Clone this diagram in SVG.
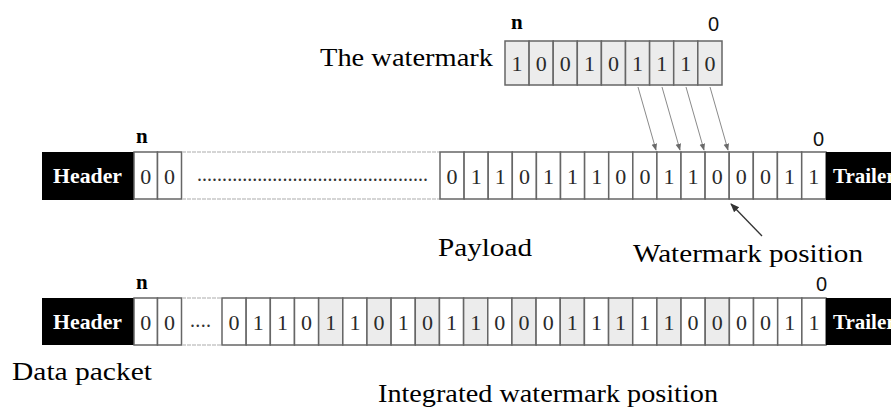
<svg xmlns="http://www.w3.org/2000/svg" width="891" height="415" viewBox="0 0 891 415">
<style>
.cell{fill:#fff;stroke:#666;stroke-width:1.5}
.sh{fill:#ececec;stroke:#666;stroke-width:1.5}
.blk{fill:#000}
.bit{font-family:"Liberation Serif",serif;font-size:22px;fill:#2a2a2a;text-anchor:middle}
.hd{font-family:"Liberation Serif",serif;font-size:21px;font-weight:bold;fill:#fff}
.lbl{font-family:"Liberation Serif",serif;font-size:25px;fill:#000}
.idx{font-family:"Liberation Sans",sans-serif;font-size:20px;fill:#111}
.idxb{font-family:"Liberation Serif",serif;font-size:21px;font-weight:bold;fill:#000}
.faint{stroke:#c8c8c8;stroke-width:1.4;stroke-dasharray:4 1}
.dots{font-family:"Liberation Serif",serif;font-size:20px;fill:#333}
.arw{stroke:#8a8a8a;stroke-width:1;fill:none}
</style>
<defs>
<marker id="ga" viewBox="0 0 10 10" refX="9" refY="5" markerWidth="7" markerHeight="7" orient="auto" markerUnits="userSpaceOnUse"><path d="M0,1 L10,5 L0,9 Z" fill="#6a6a6a"/></marker>
<marker id="ka" viewBox="0 0 10 10" refX="9" refY="5" markerWidth="9" markerHeight="9" orient="auto" markerUnits="userSpaceOnUse"><path d="M0,1 L10,5 L0,9 Z" fill="#333"/></marker>
</defs>
<rect width="891" height="415" fill="#fff"/>

<g id="watermark">
<text class="lbl" x="320" y="66" textLength="173" lengthAdjust="spacingAndGlyphs">The watermark</text>
<text class="idxb" x="511" y="29">n</text>
<text class="idx" x="708" y="31">0</text>
<rect class="sh" x="505" y="41" width="24.1" height="44"/><text class="bit" x="517" y="71">1</text>
<rect class="sh" x="529.1" y="41" width="24.1" height="44"/><text class="bit" x="541.2" y="71">0</text>
<rect class="sh" x="553.2" y="41" width="24.1" height="44"/><text class="bit" x="565.3" y="71">0</text>
<rect class="sh" x="577.3" y="41" width="24.1" height="44"/><text class="bit" x="589.4" y="71">1</text>
<rect class="sh" x="601.4" y="41" width="24.1" height="44"/><text class="bit" x="613.5" y="71">0</text>
<rect class="sh" x="625.5" y="41" width="24.1" height="44"/><text class="bit" x="637.6" y="71">1</text>
<rect class="sh" x="649.6" y="41" width="24.1" height="44"/><text class="bit" x="661.7" y="71">1</text>
<rect class="sh" x="673.7" y="41" width="24.1" height="44"/><text class="bit" x="685.8" y="71">1</text>
<rect class="sh" x="697.8" y="41" width="24.2" height="44"/><text class="bit" x="709.9" y="71">0</text>
</g>

<g id="payload-row">
<rect class="blk" x="42" y="152" width="92" height="48"/>
<text class="hd" x="53" y="183" textLength="69" lengthAdjust="spacingAndGlyphs">Header</text>
<text class="idxb" x="136" y="143">n</text>
<text class="idx" x="813" y="146">0</text>
<rect class="cell" x="134" y="152" width="23.5" height="47"/><text class="bit" x="145.7" y="184">0</text>
<rect class="cell" x="157.5" y="152" width="24" height="47"/><text class="bit" x="169.5" y="184">0</text>
<line class="faint" x1="182" y1="152" x2="440" y2="152"/>
<line class="faint" x1="182" y1="199" x2="440" y2="199"/>
<text class="dots" x="197" y="181" textLength="231" lengthAdjust="spacing">..............................................</text>
<rect class="cell" x="440" y="152" width="24.1" height="47"/><text class="bit" x="452" y="184">0</text>
<rect class="cell" x="464.1" y="152" width="24.1" height="47"/><text class="bit" x="476.2" y="184">1</text>
<rect class="cell" x="488.2" y="152" width="24.1" height="47"/><text class="bit" x="500.3" y="184">1</text>
<rect class="cell" x="512.3" y="152" width="24.1" height="47"/><text class="bit" x="524.4" y="184">0</text>
<rect class="cell" x="536.4" y="152" width="24.1" height="47"/><text class="bit" x="548.5" y="184">1</text>
<rect class="cell" x="560.5" y="152" width="24.1" height="47"/><text class="bit" x="572.6" y="184">1</text>
<rect class="cell" x="584.6" y="152" width="24.1" height="47"/><text class="bit" x="596.7" y="184">1</text>
<rect class="cell" x="608.7" y="152" width="24.1" height="47"/><text class="bit" x="620.8" y="184">0</text>
<rect class="cell" x="632.8" y="152" width="24.1" height="47"/><text class="bit" x="644.9" y="184">0</text>
<rect class="cell" x="656.9" y="152" width="24.1" height="47"/><text class="bit" x="669" y="184">1</text>
<rect class="cell" x="681" y="152" width="24.1" height="47"/><text class="bit" x="693.1" y="184">1</text>
<rect class="cell" x="705.1" y="152" width="24.1" height="47"/><text class="bit" x="717.2" y="184">0</text>
<rect class="cell" x="729.2" y="152" width="24.1" height="47"/><text class="bit" x="741.3" y="184">0</text>
<rect class="cell" x="753.3" y="152" width="24.1" height="47"/><text class="bit" x="765.4" y="184">0</text>
<rect class="cell" x="777.4" y="152" width="24.3" height="47"/><text class="bit" x="789.5" y="184">1</text>
<rect class="cell" x="801.7" y="152" width="24.3" height="47"/><text class="bit" x="813.8" y="184">1</text>
<rect class="blk" x="826" y="152" width="65" height="48"/>
<text class="hd" x="833" y="183">Trailer</text>
<text class="lbl" x="438" y="256" textLength="94" lengthAdjust="spacingAndGlyphs">Payload</text>
<text class="lbl" x="633" y="262" textLength="230" lengthAdjust="spacingAndGlyphs">Watermark position</text>
</g>

<g id="integrated-row">
<rect class="blk" x="42" y="298" width="92" height="47"/>
<text class="hd" x="53" y="329" textLength="69" lengthAdjust="spacingAndGlyphs">Header</text>
<text class="idxb" x="136" y="289">n</text>
<text class="idx" x="816" y="291">0</text>
<rect class="cell" x="134" y="298" width="23.5" height="47"/><text class="bit" x="145.7" y="330">0</text>
<rect class="cell" x="157.5" y="298" width="24" height="47"/><text class="bit" x="169.5" y="330">0</text>
<line class="faint" x1="182" y1="298" x2="222" y2="298"/>
<line class="faint" x1="182" y1="345" x2="222" y2="345"/>
<text class="dots" x="190" y="327" textLength="21" lengthAdjust="spacing">....</text>
<rect class="cell" x="222" y="298" width="24.16" height="47"/><text class="bit" x="234.1" y="330">0</text>
<rect class="cell" x="246.16" y="298" width="24.16" height="47"/><text class="bit" x="258.2" y="330">1</text>
<rect class="cell" x="270.32" y="298" width="24.16" height="47"/><text class="bit" x="282.4" y="330">1</text>
<rect class="cell" x="294.48" y="298" width="24.16" height="47"/><text class="bit" x="306.6" y="330">0</text>
<rect class="sh" x="318.64" y="298" width="24.16" height="47"/><text class="bit" x="330.7" y="330">1</text>
<rect class="cell" x="342.8" y="298" width="24.16" height="47"/><text class="bit" x="354.9" y="330">1</text>
<rect class="sh" x="366.96" y="298" width="24.16" height="47"/><text class="bit" x="379" y="330">0</text>
<rect class="cell" x="391.12" y="298" width="24.16" height="47"/><text class="bit" x="403.2" y="330">1</text>
<rect class="sh" x="415.28" y="298" width="24.16" height="47"/><text class="bit" x="427.4" y="330">0</text>
<rect class="cell" x="439.44" y="298" width="24.16" height="47"/><text class="bit" x="451.5" y="330">1</text>
<rect class="sh" x="463.6" y="298" width="24.16" height="47"/><text class="bit" x="475.7" y="330">1</text>
<rect class="cell" x="487.76" y="298" width="24.16" height="47"/><text class="bit" x="499.8" y="330">0</text>
<rect class="sh" x="511.92" y="298" width="24.16" height="47"/><text class="bit" x="524" y="330">0</text>
<rect class="cell" x="536.08" y="298" width="24.16" height="47"/><text class="bit" x="548.2" y="330">0</text>
<rect class="sh" x="560.24" y="298" width="24.16" height="47"/><text class="bit" x="572.3" y="330">1</text>
<rect class="cell" x="584.4" y="298" width="24.16" height="47"/><text class="bit" x="596.5" y="330">1</text>
<rect class="sh" x="608.56" y="298" width="24.16" height="47"/><text class="bit" x="620.6" y="330">1</text>
<rect class="cell" x="632.72" y="298" width="24.16" height="47"/><text class="bit" x="644.8" y="330">1</text>
<rect class="sh" x="656.88" y="298" width="24.16" height="47"/><text class="bit" x="669" y="330">1</text>
<rect class="cell" x="681.04" y="298" width="24.16" height="47"/><text class="bit" x="693.1" y="330">0</text>
<rect class="sh" x="705.2" y="298" width="24.16" height="47"/><text class="bit" x="717.3" y="330">0</text>
<rect class="cell" x="729.36" y="298" width="24.16" height="47"/><text class="bit" x="741.4" y="330">0</text>
<rect class="cell" x="753.52" y="298" width="24.16" height="47"/><text class="bit" x="765.6" y="330">0</text>
<rect class="cell" x="777.68" y="298" width="24.16" height="47"/><text class="bit" x="789.8" y="330">1</text>
<rect class="cell" x="801.84" y="298" width="24.16" height="47"/><text class="bit" x="813.9" y="330">1</text>
<rect class="blk" x="826" y="298" width="65" height="47"/>
<text class="hd" x="833" y="329">Trailer</text>
<text class="lbl" x="12" y="380" textLength="140" lengthAdjust="spacingAndGlyphs">Data packet</text>
<text class="lbl" x="378" y="402" textLength="340" lengthAdjust="spacingAndGlyphs">Integrated watermark position</text>
</g>

<g id="connectors">
<line class="arw" x1="638" y1="87" x2="656" y2="150" marker-end="url(#ga)"/>
<line class="arw" x1="662" y1="87" x2="680" y2="150" marker-end="url(#ga)"/>
<line class="arw" x1="686" y1="87" x2="704" y2="150" marker-end="url(#ga)"/>
<line class="arw" x1="710" y1="87" x2="728" y2="150" marker-end="url(#ga)"/>
<line x1="762" y1="236" x2="731" y2="204" stroke="#333" stroke-width="1.3" marker-end="url(#ka)"/>
</g>
</svg>
